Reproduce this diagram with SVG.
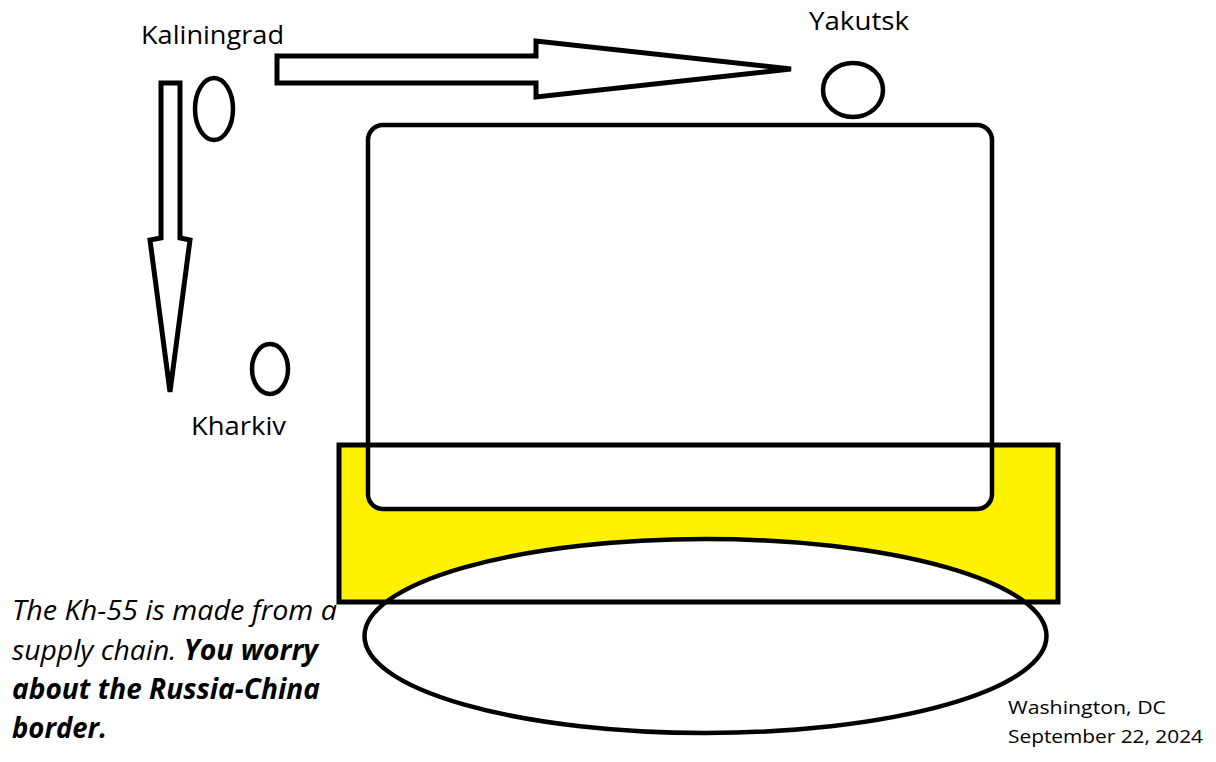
<svg xmlns="http://www.w3.org/2000/svg" width="1216" height="762" viewBox="0 0 1216 762">
<style>
.s{fill:#fff;stroke:#000;stroke-width:4.5}
.arr{fill:#fff;stroke:#000;stroke-width:5;stroke-linejoin:miter}
.lbl{font-family:"Open Sans","Liberation Sans",sans-serif;font-size:25px;fill:#000}
.body{font-family:"Open Sans","Liberation Sans",sans-serif;font-size:28px;font-style:italic;fill:#000}
.b{font-weight:bold}
.small{font-family:"Open Sans","Liberation Sans",sans-serif;font-size:19px;fill:#000}
</style>
<rect width="1216" height="762" fill="#fff"/>
<g id="yellow-band-fill"><rect x="339" y="445" width="719" height="157" fill="#fff200"/></g>
<g id="main-box"><rect class="s" x="368" y="125" width="624" height="384" rx="15" ry="15"/></g>
<g id="big-ellipse"><ellipse class="s" cx="705.5" cy="636" rx="341" ry="97"/></g>
<g id="yellow-band"><rect x="339" y="445" width="719" height="157" fill="none" stroke="#000" stroke-width="5"/></g>
<g id="kaliningrad">
<ellipse class="s" cx="214" cy="109" rx="19" ry="31"/>
<text class="lbl" x="141" y="44" textLength="143" lengthAdjust="spacingAndGlyphs">Kaliningrad</text>
</g>
<g id="yakutsk">
<ellipse class="s" cx="853" cy="90" rx="30" ry="27"/>
<text class="lbl" x="809" y="30" textLength="100" lengthAdjust="spacingAndGlyphs">Yakutsk</text>
</g>
<g id="kharkiv">
<ellipse class="s" cx="270" cy="369" rx="18" ry="25"/>
<text class="lbl" x="191" y="435" textLength="95" lengthAdjust="spacingAndGlyphs">Kharkiv</text>
</g>
<g id="connectors">
<polygon class="arr" points="277,56 536,56 536,41 791,69 536,97 536,83 277,83"/>
<polygon class="arr" points="161,83 180,83 180,238 190,240 170,392 150,240 161,238"/>
</g>
<g id="caption">
<text class="body" x="12" y="620" textLength="325" lengthAdjust="spacingAndGlyphs">The Kh-55 is made from a</text>
<text class="body" x="12" y="660" textLength="306" lengthAdjust="spacingAndGlyphs">supply chain. <tspan class="b">You worry</tspan></text>
<text class="body b" x="12" y="699" textLength="308" lengthAdjust="spacingAndGlyphs">about the Russia-China</text>
<text class="body b" x="12" y="738" textLength="95" lengthAdjust="spacingAndGlyphs">border.</text>
</g>
<g id="dateline">
<text class="small" x="1008" y="714" textLength="158" lengthAdjust="spacingAndGlyphs">Washington, DC</text>
<text class="small" x="1008" y="743" textLength="195" lengthAdjust="spacingAndGlyphs">September 22, 2024</text>
</g>
</svg>
